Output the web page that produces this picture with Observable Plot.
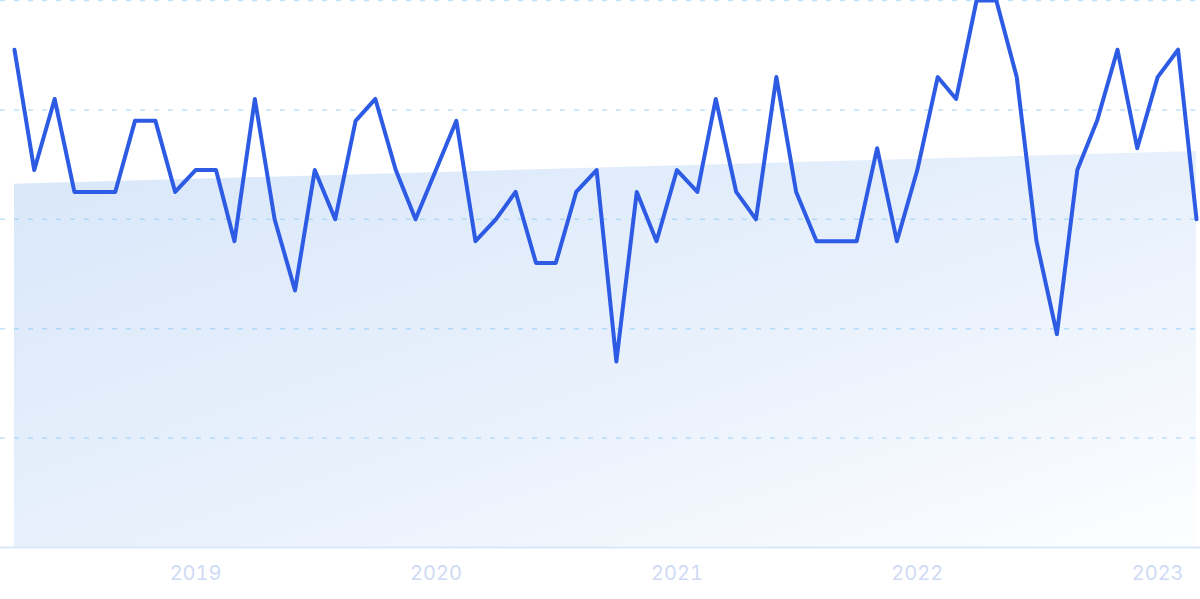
<!DOCTYPE html>
<html>
<head>
<meta charset="utf-8">
<script src="https://cdn.jsdelivr.net/npm/d3@7"></script>
<script src="https://cdn.jsdelivr.net/npm/@observablehq/plot@0.6"></script>
<style>
  html, body { margin: 0; padding: 0; background: #ffffff; }
  #chart svg { display: block; }
</style>
</head>
<body>
<div id="chart"></div>
<script>
// Monthly observations, April 2018 – March 2023
const months = [
  "2018-04","2018-05","2018-06","2018-07","2018-08","2018-09","2018-10","2018-11","2018-12",
  "2019-01","2019-02","2019-03","2019-04","2019-05","2019-06","2019-07","2019-08","2019-09","2019-10","2019-11","2019-12",
  "2020-01","2020-02","2020-03","2020-04","2020-05","2020-06","2020-07","2020-08","2020-09","2020-10","2020-11","2020-12",
  "2021-01","2021-02","2021-03","2021-04","2021-05","2021-06","2021-07","2021-08","2021-09","2021-10","2021-11","2021-12",
  "2022-01","2022-02","2022-03","2022-04","2022-05","2022-06","2022-07","2022-08","2022-09","2022-10","2022-11","2022-12",
  "2023-01","2023-02","2023-03"
];
const values = [
  91, 69, 82, 65, 65, 65, 78, 78, 65,
  69, 69, 56, 82, 60, 47, 69, 60, 78, 82, 69, 60,
  69, 78, 56, 60, 65, 52, 52, 65, 69, 34, 65, 56,
  69, 65, 82, 65, 60, 86, 65, 56, 56, 56, 73, 56,
  69, 86, 82, 100, 100, 86, 56, 39, 69, 78, 91, 73,
  86, 91, 60
];
// Trend band (start / end values)
const trendMonths = ["2018-04", "2023-03"];
const trendValues = [66.4, 72.4];
// Axis
const yearTicks = ["2019-01", "2020-01", "2021-01", "2022-01", "2023-01"];
const yearLabels = ["2019", "2020", "2021", "2022", "2023"];
const gridValues = [20, 40, 60, 80, 100];

const parse = d3.utcParse("%Y-%m");
const series = months.map((m, i) => ({date: parse(m), value: values[i]}));
const trend = trendMonths.map((m, i) => ({date: parse(m), value: trendValues[i]}));
const tickDates = yearTicks.map(parse);

const defs = () => {
  const d = d3.create("svg:defs");
  const g = d.append("linearGradient")
    .attr("id", "trendGrad")
    .attr("x1", "0").attr("y1", "0").attr("x2", "1").attr("y2", "1");
  g.append("stop").attr("offset", "0%").attr("stop-color", "#d8e7fa");
  g.append("stop").attr("offset", "55%").attr("stop-color", "#e9f1fc");
  g.append("stop").attr("offset", "100%").attr("stop-color", "#fdfeff");
  return d.node();
};

const chart = Plot.plot({
  width: 1200,
  height: 599,
  marginTop: 0,
  marginLeft: 0,
  marginRight: 0,
  marginBottom: 52,
  style: {background: "#ffffff", fontFamily: "Inter, sans-serif", overflow: "hidden"},
  x: {type: "utc", domain: [parse(months[0]), parse(months[months.length - 1])], range: [14, 1196]},
  y: {domain: [0, 100], range: [547, 0], axis: null},
  marks: [
    defs,
    Plot.areaY(trend, {x: "date", y: "value", fill: "url(#trendGrad)"}),
    Plot.ruleY(gridValues, {stroke: "rgb(140,200,245)", strokeOpacity: 0.55, strokeWidth: 1.5, strokeDasharray: "5,9"}),
    Plot.ruleY([0], {stroke: "#d9e8fa", strokeWidth: 2}),
    Plot.lineY(series, {x: "date", y: "value", stroke: "#2d5be4", strokeWidth: 4, strokeLinejoin: "round", strokeLinecap: "round"}),
    Plot.axisX(tickDates, {
      tickSize: 0,
      tickPadding: 18,
      tickFormat: (d, i) => yearLabels[i],
      fontSize: 20,
      fill: "#cfdaf5",
      fontFamily: "Inter, sans-serif",
      label: null
    })
  ]
});
document.getElementById("chart").appendChild(chart);
</script>
</body>
</html>
